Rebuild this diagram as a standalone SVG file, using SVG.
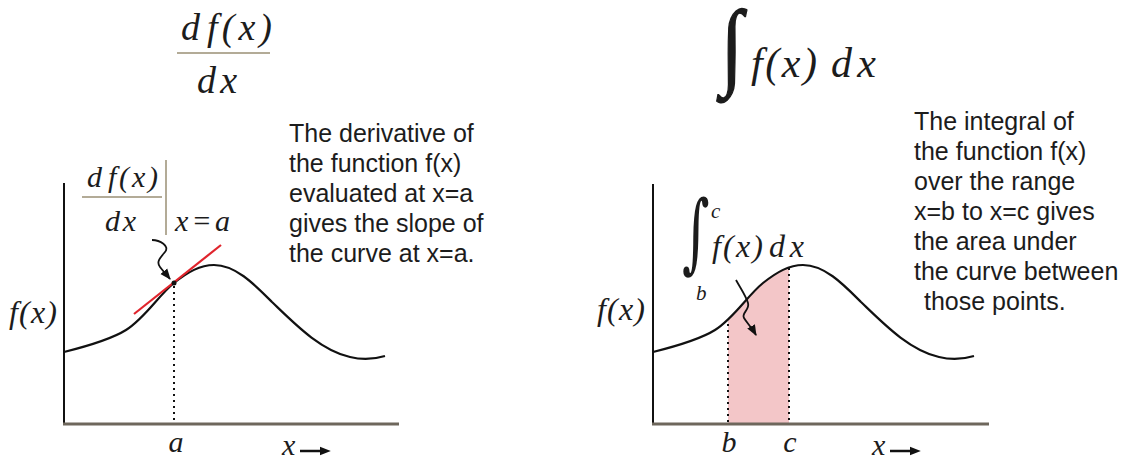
<svg xmlns="http://www.w3.org/2000/svg" width="1123" height="459" viewBox="0 0 1123 459">
<defs>
<style>
.desc{font-family:"Liberation Sans",Arial,sans-serif;font-size:25px;fill:#1c1c1c}
.m{font-family:"Liberation Serif","Times New Roman",serif;font-style:italic;fill:#1c1c1c}
.int{font-family:"DejaVu Serif","Liberation Serif",serif;fill:#1c1c1c}
.int2{font-family:"Liberation Serif","DejaVu Serif",serif;fill:#1c1c1c;stroke:#1c1c1c;stroke-width:1.2}
.axisY{stroke:#111;stroke-width:2;fill:none}
.axisX{stroke:#6e675c;stroke-width:3;fill:none}
.curve{stroke:#111;stroke-width:2.2;fill:none}
.frac{stroke:#b3ab97;stroke-width:2}
.dot{stroke:#111;stroke-width:2;stroke-dasharray:2 4}
.sq{stroke:#111;stroke-width:1.8;fill:none;marker-end:url(#ah)}
.xarr{stroke:#111;stroke-width:2.5;marker-end:url(#ah2)}
</style>
<marker id="ah" viewBox="0 0 10 10" refX="9" refY="5" markerWidth="11" markerHeight="11" markerUnits="userSpaceOnUse" orient="auto"><path d="M0,1 L10,5 L0,9 z" fill="#111"/></marker>
<marker id="ah2" viewBox="0 0 10 10" refX="2" refY="5" markerWidth="11" markerHeight="11" markerUnits="userSpaceOnUse" orient="auto"><path d="M0,1 L10,5 L0,9 z" fill="#111"/></marker>
<path id="crv" d="M64,352 C84,347 110,340 126,330 C145,318 158,296 174,283 C188,272 200,265 214,265 C236,265 255,285 272,302 C295,324 320,350 350,357 C362,360 375,359 385,356"/>
<clipPath id="under"><path transform="translate(589,0)" d="M64,352 C84,347 110,340 126,330 C145,318 158,296 174,283 C188,272 200,265 214,265 C236,265 255,285 272,302 C295,324 320,350 350,357 C362,360 375,359 385,356 L385,424 L64,424 Z"/></clipPath>
</defs>
<rect width="1123" height="459" fill="#fff"/>

<g id="title-derivative">
<text class="m" x="181" y="40" font-size="38">d</text>
<text class="m" x="207" y="40" font-size="38" textLength="65" lengthAdjust="spacing">f(x)</text>
<line class="frac" x1="177" y1="53" x2="270" y2="53"/>
<text class="m" x="197" y="93" font-size="38" textLength="40" lengthAdjust="spacing">dx</text>
</g>

<g id="title-integral">
<text class="int2" x="0" y="0" font-size="80" transform="translate(721,77) scale(1,1.2)">∫</text>
<text class="m" x="751" y="77" font-size="42" textLength="66" lengthAdjust="spacing">f(x)</text>
<text class="m" x="831" y="77" font-size="42" textLength="45" lengthAdjust="spacing">dx</text>
</g>

<g id="left-graph">
<line class="axisY" x1="64" y1="183" x2="64" y2="424"/>
<line class="axisX" x1="63" y1="424" x2="399" y2="424"/>
<line class="dot" x1="174" y1="286" x2="174" y2="422"/>
<use href="#crv" class="curve"/>
<line x1="134" y1="314" x2="221" y2="245" stroke="#e0242c" stroke-width="2.2"/>
<circle cx="174" cy="283" r="2.5" fill="#111"/>
<text class="m" x="9" y="323" font-size="32" textLength="48" lengthAdjust="spacing">f(x)</text>
<text class="m" x="176" y="452" font-size="30" text-anchor="middle">a</text>
<text class="m" x="282" y="455" font-size="30">x</text>
<line class="xarr" x1="300" y1="451" x2="322" y2="451"/>
</g>

<g id="left-label">
<text class="m" x="87" y="187" font-size="30">d</text>
<text class="m" x="108" y="187" font-size="30" textLength="50" lengthAdjust="spacing">f(x)</text>
<line class="frac" x1="82" y1="197" x2="162" y2="197"/>
<text class="m" x="105" y="231" font-size="30" textLength="31" lengthAdjust="spacing">dx</text>
<line class="frac" x1="166" y1="160" x2="166" y2="235"/>
<text class="m" x="175" y="231" font-size="30" textLength="55" lengthAdjust="spacing">x=a</text>
</g>

<g id="left-text" class="desc">
<text x="289" y="142">The derivative of</text>
<text x="289" y="172">the function f(x)</text>
<text x="289" y="202">evaluated at x=a</text>
<text x="289" y="232">gives the slope of</text>
<text x="289" y="262">the curve at x=a.</text>
</g>

<g id="right-graph">
<rect x="728" y="250" width="61" height="174" fill="#f3c6c8" clip-path="url(#under)"/>
<line class="axisY" x1="653" y1="184" x2="653" y2="424"/>
<line class="axisX" x1="652" y1="424" x2="989" y2="424"/>
<line class="dot" x1="728" y1="324" x2="728" y2="422"/>
<line class="dot" x1="789" y1="268" x2="789" y2="422"/>
<use href="#crv" class="curve" transform="translate(589,0)"/>
<text class="m" x="597" y="320" font-size="32" textLength="48" lengthAdjust="spacing">f(x)</text>
<text class="m" x="729" y="452" font-size="30" text-anchor="middle">b</text>
<text class="m" x="790" y="452" font-size="30" text-anchor="middle">c</text>
<text class="m" x="872" y="455" font-size="30">x</text>
<line class="xarr" x1="890" y1="451" x2="912" y2="451"/>
</g>

<g id="right-label">
<text class="int" x="0" y="0" font-size="62" transform="translate(682,262) scale(0.85,1.4)">∫</text>
<text class="m" x="711" y="218" font-size="21">c</text>
<text class="m" x="696" y="300" font-size="21">b</text>
<text class="m" x="712" y="257" font-size="32" textLength="51" lengthAdjust="spacing">f(x)</text>
<text class="m" x="769" y="257" font-size="32" textLength="35" lengthAdjust="spacing">dx</text>
</g>

<g id="right-text" class="desc">
<text x="914" y="130">The integral of</text>
<text x="914" y="160">the function f(x)</text>
<text x="914" y="190">over the range</text>
<text x="914" y="220">x=b to x=c gives</text>
<text x="914" y="250">the area under</text>
<text x="914" y="280">the curve between</text>
<text x="924" y="310">those points.</text>
</g>

<g id="connectors">
<path class="sq" d="M152,240 C160,240 170,246 165,252 C160,258 156,262 160,267 C163,271 166,274 170,279"/>
<path class="sq" d="M736,280 C741,289 746,296 748,303 C750,310 741,313 744,318 C747,323 752,328 756,335"/>
</g>
</svg>
